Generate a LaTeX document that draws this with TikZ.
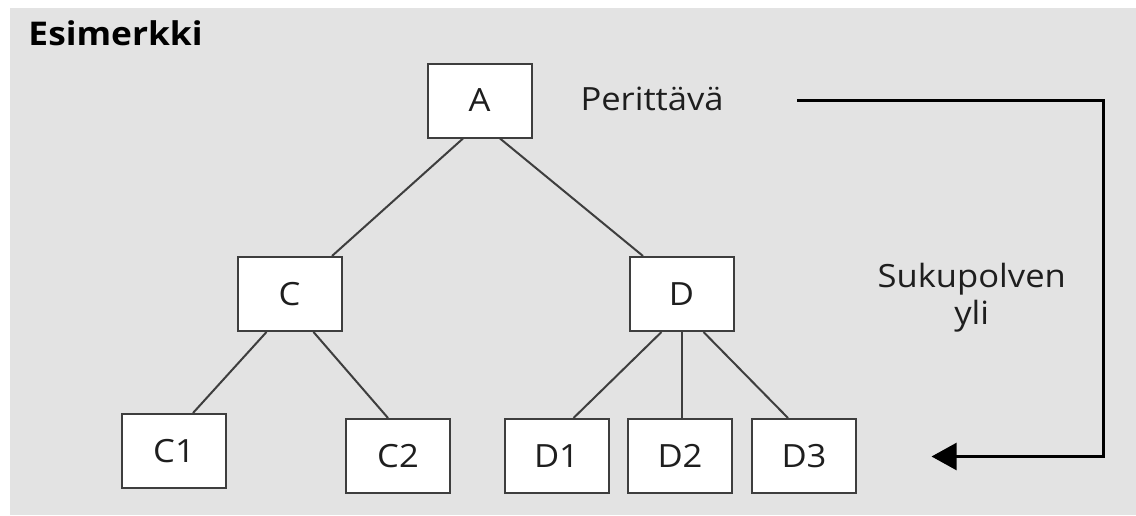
\documentclass[tikz,border=0pt]{standalone}
\usepackage{fontspec}
\setmainfont{Open Sans}[FakeStretch=1.08]
\usetikzlibrary{arrows.meta,calc}

\definecolor{bgGray}{RGB}{227,227,227}
\definecolor{edgeGray}{RGB}{62,62,62}
\definecolor{textDark}{RGB}{30,30,30}

\tikzset{every picture/.style={line width=0.75pt}}
\tikzset{
  genbox/.style={draw=edgeGray, fill=white, line width=1.5pt, inner sep=0pt,
    minimum width=78pt, minimum height=55.5pt, text=textDark,
    font=\fontsize{24}{28}\selectfont},
  genlink/.style={draw=edgeGray, line width=1.5pt},
  genlabel/.style={inner sep=0pt, text=textDark, font=\fontsize{24}{27.75}\selectfont},
  skiparrow/.style={draw=black, line width=2.5pt, -{Triangle[length=18.75pt, width=20pt]}}
}

\begin{document}
\begin{tikzpicture}[x=0.75pt,y=0.75pt,yscale=-1,xscale=1]
    \useasboundingbox (0,0) rectangle (1136,515);
    \fill [bgGray] (10,8) rectangle (1136,515);
    % title
    \node (title) [anchor=base west, inner sep=0pt, font=\fontsize{24.5}{30}\selectfont\bfseries] at (28,45) {Esimerkki};
    % tree
    \node (A) [genbox] at (479.5,100.5) {A};
    \node (C) [genbox] at (289.5,294) {C};
    \node (D) [genbox] at (681.5,294) {D};
    \node (C1) [genbox] at (174,451) {C1};
    \node (C2) [genbox] at (398,456) {C2};
    \node (D1) [genbox] at (556.5,456) {D1};
    \node (D2) [genbox] at (680,456) {D2};
    \node (D3) [genbox] at (804,456) {D3};
    \draw [genlink] ($(A.south)+(-16.5,0)$) -- ($(C.north)+(42.5,0)$);
    \draw [genlink] ($(A.south)+(20.5,0)$) -- ($(D.north)+(-38.5,0)$);
    \draw [genlink] ($(C.south)+(-23,0)$) -- ($(C1.north)+(19,0)$);
    \draw [genlink] ($(C.south)+(24,0)$) -- ($(C2.north)+(-10,0)$);
    \draw [genlink] ($(D.south)+(-20,0)$) -- ($(D1.north)+(17,0)$);
    \draw [genlink] (D.south) -- (D.south |- D2.north);
    \draw [genlink] ($(D.south)+(22,0)$) -- ($(D3.north)+(-16,0)$);
    % labels
    \node (heir) [genlabel, anchor=base west] at (580,110.7) {Perittävä};
    \node (skip) [genlabel, anchor=north, align=center] at (971.7,263) {Sukupolven\\yli};
    % arrow over one generation
    \coordinate (skipstart) at (797,100.7);
    \coordinate (skipend) at (931.5,456.5);
    \draw [skiparrow] (skipstart) -- ++(306.5,0) |- (skipend);
\end{tikzpicture}
\end{document}
